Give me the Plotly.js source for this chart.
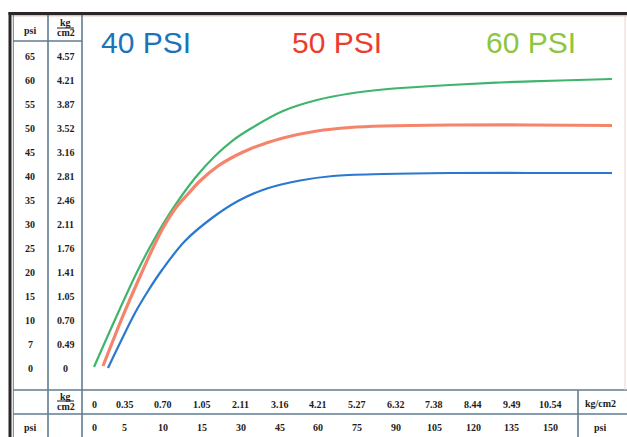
<!DOCTYPE html>
<html>
<head>
<meta charset="utf-8">
<script src="https://cdn.plot.ly/plotly-3.0.1.min.js"></script>
<style>
  html, body { margin: 0; padding: 0; background: #ffffff; }
  #chart { width: 627px; height: 437px; }
</style>
</head>
<body>
<div id="chart"></div>
<script>
// ---- data ----
const xKgLabels  = ['0','0.35','0.70','1.05','2.11','3.16','4.21','5.27','6.32','7.38','8.44','9.49','10.54'];
const xPsiLabels = ['0','5','10','15','30','45','60','75','90','105','120','135','150'];
const yPsiLabels = ['0','7','10','15','20','25','30','35','40','45','50','55','60','65'];
const yKgLabels  = ['0','0.49','0.70','1.05','1.41','1.76','2.11','2.46','2.81','3.16','3.52','3.87','4.21','4.57'];

const seriesNames = ['40 PSI', '50 PSI', '60 PSI'];

const x40 = [0.568, 0.904, 1.266, 1.602, 1.964, 2.558, 3.256, 3.928, 4.677, 5.530, 6.382, 7.674, 9.406, 11.473, 13.592];
const y40 = [0.0, 5.63, 11.46, 16.04, 20.42, 26.46, 31.25, 34.79, 37.40, 39.06, 40.0, 40.42, 40.63, 40.63, 40.63];

const x50 = [0.439, 0.724, 1.008, 1.344, 1.705, 1.990, 2.300, 2.636, 2.946, 3.411, 3.850, 4.238, 4.625, 5.090, 5.969, 6.822, 7.674, 9.406, 11.473, 13.592];
const y50 = [0.42, 6.25, 11.88, 18.13, 24.58, 29.17, 33.13, 36.25, 38.96, 42.08, 44.17, 45.63, 46.77, 47.92, 49.38, 50.10, 50.42, 50.63, 50.63, 50.52];

const x60 = [0.207, 0.827, 1.344, 1.783, 2.222, 2.817, 3.333, 3.773, 4.238, 5.090, 5.969, 6.822, 7.674, 8.553, 9.406, 10.698, 12.248, 13.592];
const y60 = [0.21, 11.46, 20.42, 27.08, 32.92, 39.58, 44.17, 47.29, 49.79, 53.54, 55.83, 57.19, 58.02, 58.54, 58.96, 59.48, 59.90, 60.21];

// ---- geometry helpers (layout only) ----
const W = 627, H = 437;
const px = v => v / W;
const py = v => 1 - v / H;
const psiStep = 5; // y-axis units per table row

const tableLine = '#5f7d92';
const dark = '#2b2626';

function hLine(y, x0, x1, color, width) {
  return {type: 'line', xref: 'paper', yref: 'paper', x0: px(x0), x1: px(x1), y0: py(y), y1: py(y),
          line: {color: color, width: width}};
}
function vLine(x, y0, y1, color, width) {
  return {type: 'line', xref: 'paper', yref: 'paper', x0: px(x), x1: px(x), y0: py(y0), y1: py(y1),
          line: {color: color, width: width}};
}

const shapes = [
  hLine(13.5, 8.5, 627, dark, 3),
  hLine(15.8, 12, 627, '#d8a49c', 1),
  vLine(10, 12, 437, dark, 3),
  vLine(13.3, 15, 437, tableLine, 1),
  vLine(48, 15, 437, tableLine, 1.6),
  vLine(82, 15, 437, tableLine, 1.6),
  hLine(41, 13, 82, tableLine, 1.6),
  hLine(390, 13, 627, tableLine, 1.6),
  hLine(414, 13, 627, tableLine, 1.6),
  vLine(578, 390, 437, tableLine, 1.6),
  vLine(625, 16, 390, '#f0d2cc', 1)
];

const tableFont = {family: 'Liberation Serif, Times New Roman, serif', size: 10, color: '#1e1b22'};
const annotations = [];
function ann(o) {
  annotations.push(Object.assign({showarrow: false, xanchor: 'center', yanchor: 'middle', font: tableFont}, o));
}

yPsiLabels.forEach((t, k) => {
  ann({xref: 'paper', yref: 'y', x: px(30), y: k * psiStep, text: '<b>' + t + '</b>'});
});
yKgLabels.forEach((t, k) => {
  ann({xref: 'paper', yref: 'y', x: px(65.5), y: k * psiStep, text: '<b>' + t + '</b>'});
});
xKgLabels.forEach((t, i) => {
  ann({xref: 'x', yref: 'paper', x: i, y: py(404), xshift: i === 0 ? 8 : 0, text: '<b>' + t + '</b>'});
});
xPsiLabels.forEach((t, i) => {
  ann({xref: 'x', yref: 'paper', x: i, y: py(427), xshift: i === 0 ? 8 : 0, text: '<b>' + t + '</b>'});
});

ann({xref: 'paper', yref: 'paper', x: px(30), y: py(30), text: '<b>psi</b>'});
ann({xref: 'paper', yref: 'paper', x: px(65.5), y: py(22.5), text: '<b>kg</b>'});
shapes.push(hLine(28, 57, 74, '#1e1b22', 1));
ann({xref: 'paper', yref: 'paper', x: px(65.5), y: py(33), text: '<b>cm2</b>'});

ann({xref: 'paper', yref: 'paper', x: px(65.5), y: py(396), text: '<b>kg</b>'});
shapes.push(hLine(401, 57, 74, '#1e1b22', 1));
ann({xref: 'paper', yref: 'paper', x: px(65.5), y: py(406), text: '<b>cm2</b>'});
ann({xref: 'paper', yref: 'paper', x: px(30), y: py(427), text: '<b>psi</b>'});

ann({xref: 'paper', yref: 'paper', x: px(600), y: py(403), text: '<b>kg/cm2</b>'});
ann({xref: 'paper', yref: 'paper', x: px(600), y: py(427), text: '<b>psi</b>'});

const titleColors = ['#1a74bb', '#ee3b2f', '#8cc63f'];
const titleX = [146, 337, 531];
seriesNames.forEach((n, s) => {
  annotations.push({xref: 'paper', yref: 'paper', x: px(titleX[s]), y: py(42), text: n, showarrow: false,
    xanchor: 'center', yanchor: 'middle',
    font: {family: 'Liberation Sans, Arial, sans-serif', size: 30, color: titleColors[s]}});
});

const traces = [
  {x: x60, y: y60, name: seriesNames[2], mode: 'lines', line: {color: '#3db56c', width: 2.2, shape: 'spline', smoothing: 1}},
  {x: x50, y: y50, name: seriesNames[1], mode: 'lines', line: {color: '#f4856c', width: 3.2, shape: 'spline', smoothing: 1}},
  {x: x40, y: y40, name: seriesNames[0], mode: 'lines', line: {color: '#2a78cf', width: 2.2, shape: 'spline', smoothing: 1}}
];

const xr = [(0 - 86) / 38.7, (W - 86) / 38.7];
const yr = [(368 - H) / 4.8, 368 / 4.8];

const layout = {
  width: W, height: H,
  margin: {l: 0, r: 0, t: 0, b: 0, pad: 0},
  paper_bgcolor: '#ffffff', plot_bgcolor: '#ffffff',
  showlegend: false,
  xaxis: {range: xr, visible: false, fixedrange: true},
  yaxis: {range: yr, visible: false, fixedrange: true},
  shapes: shapes,
  annotations: annotations
};

Plotly.newPlot('chart', traces, layout, {displayModeBar: false, staticPlot: true});
</script>
</body>
</html>
